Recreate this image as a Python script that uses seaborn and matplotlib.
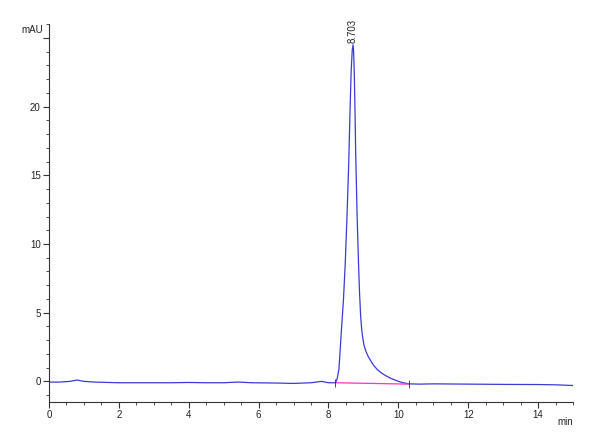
import numpy as np
import pandas as pd
import matplotlib
matplotlib.use('Agg')
import matplotlib.pyplot as plt
from matplotlib.ticker import MultipleLocator
import seaborn as sns

temps = [0.0, 0.3, 0.6, 0.8, 1.0, 1.3, 2.0, 2.5, 3.0, 3.5, 4.0, 4.5, 5.0, 5.4,
         5.8, 6.5, 7.0, 7.5, 7.8, 8.0, 8.2, 8.25, 8.3, 8.37, 8.43, 8.48, 8.53,
         8.58, 8.62, 8.65, 8.68, 8.703, 8.72, 8.74, 8.76, 8.78, 8.82, 8.86,
         8.89, 8.92, 8.95, 8.98, 9.02, 9.07, 9.14, 9.22, 9.3, 9.4, 9.52, 9.65,
         9.8, 9.95, 10.1, 10.3, 10.6, 11.0, 12.0, 13.0, 14.0, 14.5, 15.0]
signal = [-0.05, -0.05, 0.0, 0.1, 0.0, -0.05, -0.1, -0.1, -0.1, -0.1, -0.08,
          -0.1, -0.1, -0.05, -0.1, -0.12, -0.15, -0.1, 0.0, -0.1, -0.1, 0.2,
          0.9, 3.7, 6.0, 8.6, 12.0, 15.9, 20.0, 22.6, 24.1, 24.5, 24.0, 22.3,
          19.6, 16.5, 12.0, 8.6, 6.4, 4.8, 3.8, 3.2, 2.6, 2.2, 1.8, 1.45, 1.15,
          0.85, 0.6, 0.4, 0.2, 0.05, -0.08, -0.18, -0.2, -0.18, -0.2, -0.22,
          -0.23, -0.25, -0.3]

# Ligne de base de l'intégration
base_temps = [8.2, 10.3]
base_signal = [-0.1, -0.2]

pic_temps = 8.703
pic_hauteur = 24.5
pic_label = "8.703"

sns.set_theme(style="ticks")
plt.rcParams['font.family'] = ['Liberation Sans', 'DejaVu Sans']

df = pd.DataFrame({'min': temps, 'mAU': signal})

fig = plt.figure(figsize=(6, 4.4), dpi=100)
ax = fig.add_axes([0.0817, 0.0864, 0.8733, 0.8586])

sns.lineplot(data=df, x='min', y='mAU', ax=ax, color='#3a3ad6', linewidth=0.9)
sns.lineplot(x=base_temps, y=base_signal, ax=ax, color='#ff30d0', linewidth=0.9)
# petits repères de début / fin d'intégration
ax.vlines(base_temps, [b - 0.3 for b in base_signal],
          [b + 0.3 for b in base_signal], color='#333333', linewidth=0.6)

ax.set_xlim(0, 15)
ax.set_ylim(-1.5, 26)
ax.xaxis.set_major_locator(MultipleLocator(2))
ax.xaxis.set_minor_locator(MultipleLocator(0.5))
ax.set_yticks([0, 5, 10, 15, 20, 25])
ax.set_yticklabels(['0', '5', '10', '15', '20', ''])
ax.yaxis.set_minor_locator(MultipleLocator(1))

for s in ['top', 'right']:
    ax.spines[s].set_visible(False)
for s in ['left', 'bottom']:
    ax.spines[s].set_color('#333333')
    ax.spines[s].set_linewidth(0.8)

ax.tick_params(which='major', length=4, width=0.8, color='#333333',
               labelsize=7, labelcolor='#222222', pad=2)
ax.tick_params(which='minor', length=2, width=0.6, color='#333333')
ax.set_xlabel('')
ax.set_ylabel('')

ax.text(-0.012, 0.985, 'mAU', transform=ax.transAxes, ha='right', va='center',
        fontsize=7, color='#222222')
ax.text(1.0, -0.04, 'min', transform=ax.transAxes, ha='right', va='top',
        fontsize=7, color='#222222')

ax.text(pic_temps, pic_hauteur + 0.1, pic_label, rotation=90, ha='center',
        va='bottom', fontsize=7, color='#222222')

fig.savefig('out.png', dpi=100)
